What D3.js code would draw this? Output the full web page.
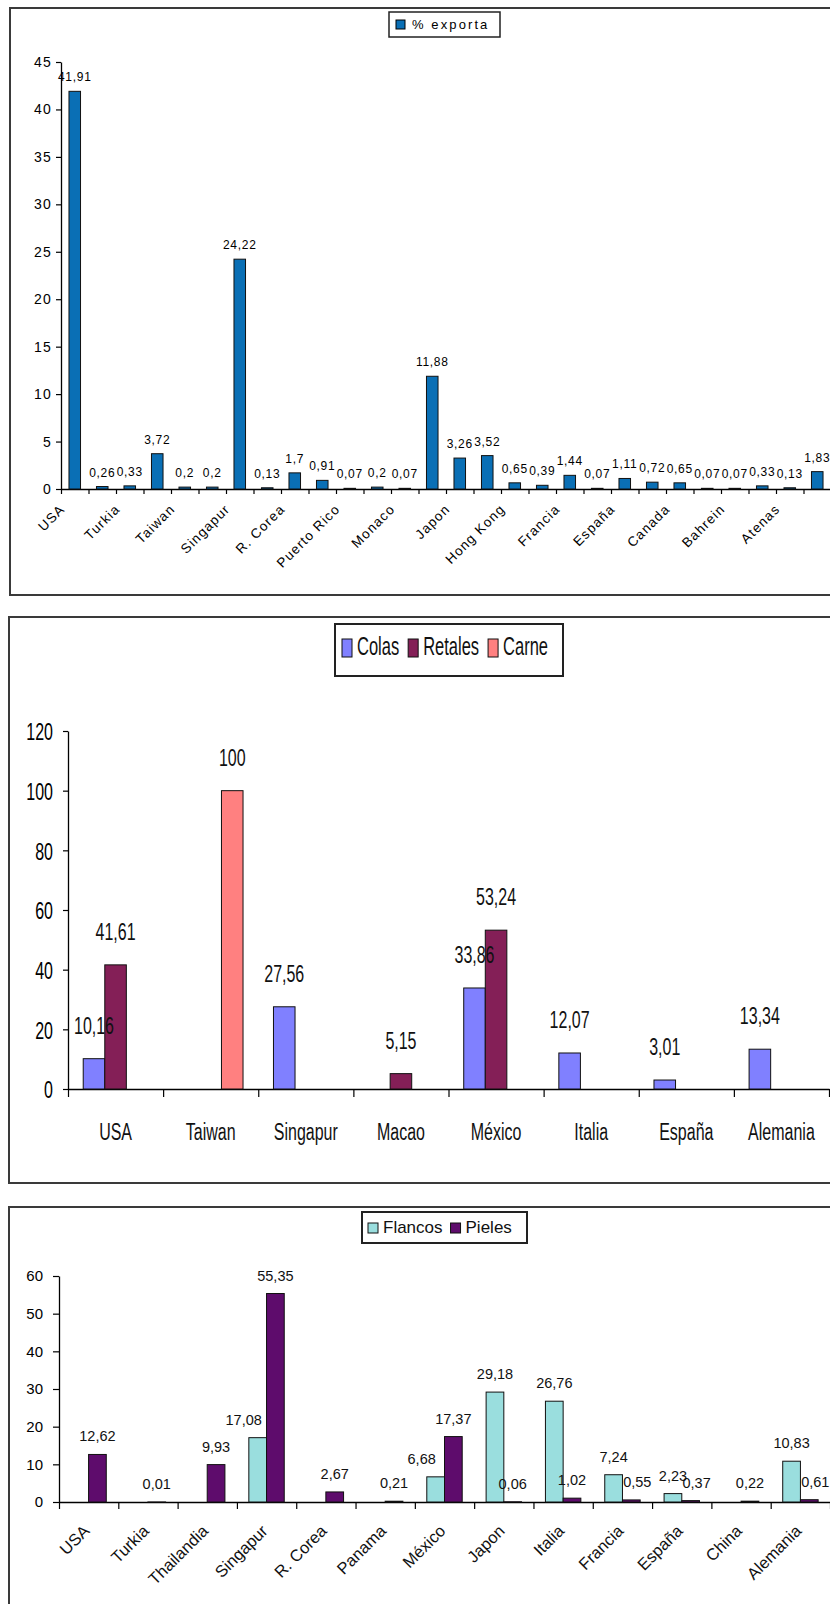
<!DOCTYPE html>
<html>
<head>
<meta charset="utf-8">
<script src="https://cdn.jsdelivr.net/npm/d3@7"></script>
<style>
body{margin:0;background:#fff;}
svg{display:block;font-family:"Liberation Sans",Arial,sans-serif;}
</style>
</head>
<body>
<svg id="graph" width="830" height="1604"></svg>
<script>
// grafico 1: % exporta
var exportaValores=[41.91,0.26,0.33,3.72,0.2,0.2,24.22,0.13,1.7,0.91,0.07,0.2,0.07,11.88,3.26,3.52,0.65,0.39,1.44,0.07,1.11,0.72,0.65,0.07,0.07,0.33,0.13,1.83]
var exportaEtiquetas=["USA","Turkia","Taiwan","Singapur","R. Corea","Puerto Rico","Monaco","Japon","Hong Kong","Francia","España","Canada","Bahrein","Atenas"]
var exportaTicks=[0,5,10,15,20,25,30,35,40,45]
var exportaSerie="% exporta"

// grafico 2: Colas / Retales / Carne
var productosPaises=["USA","Taiwan","Singapur","Macao","México","Italia","España","Alemania"]
var productosSeries=["Colas","Retales","Carne"]
var colas=[10.16,null,27.56,null,33.86,12.07,3.01,13.34]
var retales=[41.61,null,null,5.15,53.24,null,null,null]
var carne=[null,100,null,null,null,null,null,null]
var productosTicks=[0,20,40,60,80,100,120]

// grafico 3: Flancos / Pieles
var pielesPaises=["USA","Turkia","Thailandia","Singapur","R. Corea","Panama","México","Japon","Italia","Francia","España","China","Alemania"]
var pielesSeries=["Flancos","Pieles"]
var flancos=[null,null,null,17.08,null,null,6.68,29.18,26.76,7.24,2.23,null,10.83]
var pieles=[12.62,0.01,9.93,55.35,2.67,0.21,17.37,0.06,1.02,0.55,0.37,0.22,0.61]
var pielesTicks=[0,10,20,30,40,50,60]

var colorExporta="#0A6FB5"
var coloresProductos=["#8080FF","#841F57","#FF8080"]
var coloresPieles=["#9ADEDE","#5E0C6C"]
var fuente="'Liberation Sans',Arial,sans-serif"

var coma=function(v){return String(v).replace(".",",")}

var svg=d3.select("#graph")

var drawFrame=function(x,y,w,h)
{
    svg.append("rect")
    .attr("x",x).attr("y",y)
    .attr("width",w).attr("height",h)
    .attr("fill","none")
    .attr("stroke","#3a3a3a")
    .attr("stroke-width",2)
}

var estiloEje=function(sel,size)
{
    sel.attr("font-family",fuente).attr("font-size",size)
    sel.select(".domain").attr("stroke","#000").attr("stroke-width",1.3)
    sel.selectAll(".tick line").attr("stroke","#000").attr("stroke-width",1.2)
    sel.selectAll(".tick text").attr("fill","#000")
}

var drawExporta=function()
{
    drawFrame(10,8,900,587)
    var g=svg.append("g")
    var n=exportaValores.length
    var xScale=d3.scaleBand().domain(d3.range(n)).range([61,831]).paddingInner(0.58).paddingOuter(0.29)
    var xLines=d3.scaleLinear().domain([0,n]).range([61,831])
    var yScale=d3.scaleLinear().domain([0,45]).range([489,62])

    g.append("g").attr("transform","translate(61,0)")
    .call(d3.axisLeft(yScale).tickValues(exportaTicks).tickSize(5).tickSizeOuter(0).tickPadding(4))
    .call(estiloEje,14)
    .selectAll(".tick text").attr("letter-spacing",1.2)

    g.append("g").attr("transform","translate(0,489)")
    .call(d3.axisBottom(xLines).tickValues(d3.range(n+1)).tickSize(5).tickSizeOuter(0).tickFormat(""))
    .call(estiloEje,12)

    g.selectAll("rect.bar")
    .data(exportaValores)
    .enter()
    .append("rect")
    .attr("class","bar")
    .attr("x",function(v,i){return xScale(i)})
    .attr("y",function(v){return yScale(v)})
    .attr("width",xScale.bandwidth())
    .attr("height",function(v){return yScale(0)-yScale(v)})
    .attr("fill",colorExporta)
    .attr("stroke","#111")
    .attr("stroke-width",1)

    g.selectAll("text.dato")
    .data(exportaValores)
    .enter()
    .append("text")
    .attr("class","dato")
    .attr("x",function(v,i){return xScale(i)+xScale.bandwidth()/2})
    .attr("y",function(v){return yScale(v)-10})
    .attr("text-anchor","middle")
    .attr("font-size",12)
    .attr("letter-spacing",0.7)
    .text(function(v){return coma(v)})

    // solo una etiqueta de cada dos, como en el original
    g.selectAll("text.pais")
    .data(exportaEtiquetas)
    .enter()
    .append("text")
    .attr("class","pais")
    .attr("transform",function(d,i)
    {
        var cx=xScale(i*2)+xScale.bandwidth()/2-9
        return "translate("+cx+",510) rotate(-45)"
    })
    .attr("text-anchor","end")
    .attr("font-size",13.5)
    .attr("letter-spacing",1.1)
    .text(function(d){return d})

    var ley=g.append("g")
    ley.append("rect").attr("x",389).attr("y",12).attr("width",111).attr("height",25)
    .attr("fill","#fff").attr("stroke","#222").attr("stroke-width",1.5)
    ley.append("rect").attr("x",396).attr("y",20).attr("width",9).attr("height",9)
    .attr("fill",colorExporta).attr("stroke","#000")
    ley.append("text").attr("x",412).attr("y",29).attr("font-size",13).attr("letter-spacing",2.1)
    .text(exportaSerie)
}

var textoAlto=function(sel,x,y,txt,size,sy,anchor)
{
    return sel.append("text")
    .attr("transform","translate("+x+","+y+") scale(1,"+sy+")")
    .attr("text-anchor",anchor||"middle")
    .attr("font-size",size)
    .attr("fill","#111")
    .text(txt)
}

var drawProductos=function()
{
    drawFrame(9,617,900,566)
    var g=svg.append("g")
    var filas=productosPaises.map(function(p,i){return {pais:p,valores:[colas[i],retales[i],carne[i]]}})
    var xScale=d3.scaleBand().domain(productosPaises).range([68,829]).paddingInner(0.32).paddingOuter(0.16)
    var xSerie=d3.scaleBand().domain(productosSeries).range([0,xScale.bandwidth()])
    var xLines=d3.scaleLinear().domain([0,productosPaises.length]).range([68,829])
    var yScale=d3.scaleLinear().domain([0,120]).range([1089,731])

    g.append("g").attr("transform","translate(68,0)")
    .call(d3.axisLeft(yScale).tickValues(productosTicks).tickSize(5).tickSizeOuter(0).tickPadding(10))
    .call(estiloEje,16)
    .selectAll(".tick text").attr("dy","0.36em").attr("transform","scale(1,1.55)")

    g.append("g").attr("transform","translate(0,1089)")
    .call(d3.axisBottom(xLines).tickValues(d3.range(productosPaises.length+1)).tickSize(8).tickSizeOuter(0).tickFormat(""))
    .call(estiloEje,16)

    var grupos=g.selectAll("g.pais")
    .data(filas)
    .enter()
    .append("g")
    .attr("class","pais")
    .attr("transform",function(d){return "translate("+xScale(d.pais)+",0)"})

    grupos.selectAll("rect")
    .data(function(d){return d.valores.map(function(v,j){return {serie:productosSeries[j],valor:v,j:j}}).filter(function(s){return s.valor!=null})})
    .enter()
    .append("rect")
    .attr("x",function(s){return xSerie(s.serie)})
    .attr("y",function(s){return yScale(s.valor)})
    .attr("width",xSerie.bandwidth())
    .attr("height",function(s){return yScale(0)-yScale(s.valor)})
    .attr("fill",function(s){return coloresProductos[s.j]})
    .attr("stroke","#111")
    .attr("stroke-width",1)

    grupos.each(function(d)
    {
        var sel=d3.select(this)
        d.valores.forEach(function(v,j)
        {
            if(v==null)return
            textoAlto(sel,xSerie(productosSeries[j])+xSerie.bandwidth()/2,yScale(v)-25,coma(v),16,1.55)
        })
        textoAlto(sel,xScale.bandwidth()/2,1140,d.pais,16,1.55)
    })

    var ley=g.append("g")
    ley.append("rect").attr("x",335).attr("y",624).attr("width",228).attr("height",52)
    .attr("fill","#fff").attr("stroke","#222").attr("stroke-width",2)
    var cx=342
    productosSeries.forEach(function(s,j)
    {
        ley.append("rect").attr("x",cx).attr("y",639).attr("width",10).attr("height",18)
        .attr("fill",coloresProductos[j]).attr("stroke","#111")
        var t=textoAlto(ley,cx+15,655,s,16.5,1.6,"start")
        cx=cx+15+t.node().getComputedTextLength()+9
    })
}

var drawPieles=function()
{
    drawFrame(9,1207,900,500)
    var g=svg.append("g")
    var filas=pielesPaises.map(function(p,i){return {pais:p,valores:[flancos[i],pieles[i]]}})
    var xScale=d3.scaleBand().domain(pielesPaises).range([59,830]).paddingInner(0.403).paddingOuter(0.2)
    var xSerie=d3.scaleBand().domain(pielesSeries).range([0,xScale.bandwidth()])
    var xLines=d3.scaleLinear().domain([0,pielesPaises.length]).range([59,830])
    var yScale=d3.scaleLinear().domain([0,60]).range([1502,1276])

    g.append("g").attr("transform","translate(59,0)")
    .call(d3.axisLeft(yScale).tickValues(pielesTicks).tickSize(6).tickSizeOuter(0).tickPadding(10))
    .call(estiloEje,15)

    g.append("g").attr("transform","translate(0,1502)")
    .call(d3.axisBottom(xLines).tickValues(d3.range(pielesPaises.length+1)).tickSize(7).tickSizeOuter(0).tickFormat(""))
    .call(estiloEje,15)

    var grupos=g.selectAll("g.pais")
    .data(filas)
    .enter()
    .append("g")
    .attr("class","pais")
    .attr("transform",function(d){return "translate("+xScale(d.pais)+",0)"})

    grupos.selectAll("rect")
    .data(function(d){return d.valores.map(function(v,j){return {serie:pielesSeries[j],valor:v,j:j}}).filter(function(s){return s.valor!=null})})
    .enter()
    .append("rect")
    .attr("x",function(s){return xSerie(s.serie)})
    .attr("y",function(s){return yScale(s.valor)})
    .attr("width",xSerie.bandwidth())
    .attr("height",function(s){return yScale(0)-yScale(s.valor)})
    .attr("fill",function(s){return coloresPieles[s.j]})
    .attr("stroke","#111")
    .attr("stroke-width",1)

    grupos.each(function(d)
    {
        var sel=d3.select(this)
        var fl=d.valores[0],pi=d.valores[1]
        d.valores.forEach(function(v,j)
        {
            if(v==null)return
            var dx=0
            // Excel movio algunas etiquetas para que no choquen
            if(j==0&&pi!=null&&pi>v)dx=-14
            if(j==1&&fl!=null&&fl<15&&fl>v)dx=6
            sel.append("text")
            .attr("x",xSerie(pielesSeries[j])+xSerie.bandwidth()/2+dx)
            .attr("y",yScale(v)-13)
            .attr("text-anchor","middle")
            .attr("font-size",14.5)
            .attr("fill","#111")
            .text(coma(v))
        })
        sel.append("text")
        .attr("transform","translate("+(xScale.bandwidth()/2+2)+",1532) rotate(-45)")
        .attr("text-anchor","end")
        .attr("font-size",16.5)
        .attr("fill","#111")
        .text(d.pais)
    })

    var ley=g.append("g")
    ley.append("rect").attr("x",362).attr("y",1212).attr("width",165).attr("height",31)
    .attr("fill","#fff").attr("stroke","#222").attr("stroke-width",2)
    var cx=368
    pielesSeries.forEach(function(s,j)
    {
        ley.append("rect").attr("x",cx).attr("y",1223).attr("width",10).attr("height",10)
        .attr("fill",coloresPieles[j]).attr("stroke","#111")
        var t=ley.append("text").attr("x",cx+15).attr("y",1233).attr("font-size",17).attr("fill","#111").text(s)
        cx=cx+15+t.node().getComputedTextLength()+8
    })
}

drawExporta()
drawProductos()
drawPieles()
</script>
</body>
</html>
